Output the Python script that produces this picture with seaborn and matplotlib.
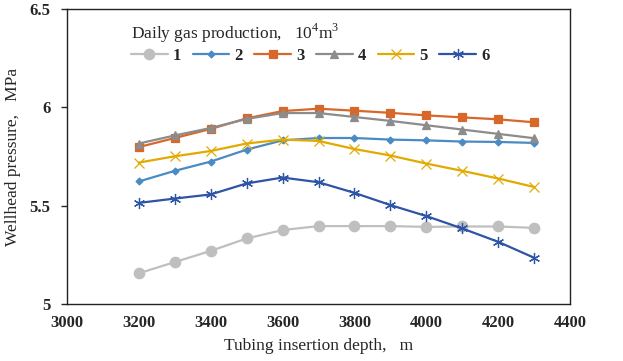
import pandas as pd
import numpy as np
import matplotlib.pyplot as plt
import seaborn as sns

depth = [3200, 3300, 3400, 3500, 3600, 3700, 3800, 3900, 4000, 4100, 4200, 4300]
p1 = [5.156, 5.213, 5.27, 5.333, 5.376, 5.396, 5.396, 5.396, 5.392, 5.394, 5.394, 5.387]
p2 = [5.623, 5.677, 5.724, 5.785, 5.832, 5.844, 5.844, 5.836, 5.832, 5.826, 5.824, 5.819]
p3 = [5.798, 5.844, 5.89, 5.944, 5.981, 5.993, 5.983, 5.972, 5.959, 5.949, 5.939, 5.924]
p4 = [5.816, 5.857, 5.895, 5.941, 5.971, 5.971, 5.951, 5.931, 5.909, 5.887, 5.865, 5.843]
p5 = [5.719, 5.751, 5.778, 5.816, 5.836, 5.829, 5.788, 5.755, 5.714, 5.677, 5.638, 5.595]
p6 = [5.514, 5.536, 5.557, 5.613, 5.643, 5.619, 5.565, 5.503, 5.447, 5.384, 5.316, 5.235]
names = ["1", "2", "3", "4", "5", "6"]

rows = []
for name, vals in zip(names, [p1, p2, p3, p4, p5, p6]):
    for d, v in zip(depth, vals):
        rows.append({"depth": d, "pressure": v, "gas": name})
df = pd.DataFrame(rows)

colors = {"1": "#BFBFBF", "2": "#4A8BC4", "3": "#D8672A",
          "4": "#8C8C8C", "5": "#E2AA00", "6": "#2E54A6"}
markers = {"1": "o", "2": "D", "3": "s", "4": "^", "5": "x", "6": (6, 2, 0)}
msize = {"1": 7.5, "2": 3.5, "3": 6, "4": 6, "5": 7.5, "6": 8}

sns.set_style("white")
plt.rcParams["font.family"] = ["Liberation Serif", "DejaVu Serif"]
plt.rcParams["mathtext.fontset"] = "custom"
plt.rcParams["mathtext.rm"] = "Liberation Serif"

fig = plt.figure(figsize=(6.23, 3.61), dpi=100)
ax = fig.add_axes([0.1075, 0.158, 0.8075, 0.817])

for name in names:
    sub = df[df["gas"] == name]
    sns.lineplot(data=sub, x="depth", y="pressure", ax=ax, color=colors[name],
                 marker=markers[name], markersize=msize[name], linewidth=1.6,
                 markeredgecolor=colors[name], markeredgewidth=0.9, label=name)

ax.set_xlim(3000, 4400)
ax.set_ylim(5, 6.5)
ax.set_xticks(np.arange(3000, 4401, 200))
ax.set_yticks([5, 5.5, 6, 6.5])
ax.set_yticklabels(["5", "5.5", "6", "6.5"])
for lab in ax.get_xticklabels() + ax.get_yticklabels():
    lab.set_fontweight("bold")
    lab.set_fontsize(12)
ax.tick_params(axis="y", direction="out", length=4, width=1, left=True, pad=8)
ax.tick_params(axis="x", direction="out", length=0, pad=8)
for s in ax.spines.values():
    s.set_color("#222222")
    s.set_linewidth(1.0)

ax.set_xlabel("Tubing insertion depth,   m", fontsize=12.5, labelpad=5)
ax.set_ylabel("Wellhead pressure,   MPa", fontsize=12.5, labelpad=6)

leg = ax.legend(ncol=6, loc="upper left", bbox_to_anchor=(0.104, 0.997), frameon=False,
                title="Daily gas production,   10$^\\mathregular{4}$m$^\\mathregular{3}$",
                title_fontsize=12.5,
                prop={"weight": "bold", "size": 12}, handlelength=2.2,
                handletextpad=0.3, columnspacing=0.7, borderpad=0.2, labelspacing=0.2)
leg._legend_box.align = "left"

fig.savefig("out.png", dpi=100)
